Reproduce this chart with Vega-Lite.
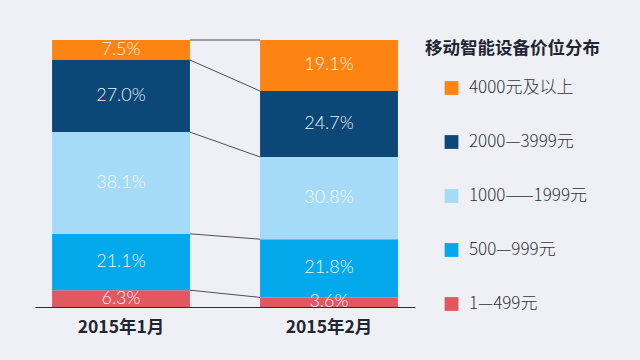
{
  "$schema": "https://vega.github.io/schema/vega-lite/v6.json",
  "width": 380,
  "height": 267,
  "autosize": {"type": "none"},
  "padding": {"left": 35, "top": 40, "right": 225, "bottom": 53},
  "background": "#eff0f5",
  "config": {
    "view": {"stroke": null},
    "font": "Lato"
  },
  "data": {
    "values": [
      {"month": "2015年1月", "range": "1—499元", "order": 1, "value": 6.3},
      {"month": "2015年1月", "range": "500—999元", "order": 2, "value": 21.1},
      {"month": "2015年1月", "range": "1000——1999元", "order": 3, "value": 38.1},
      {"month": "2015年1月", "range": "2000—3999元", "order": 4, "value": 27.0},
      {"month": "2015年1月", "range": "4000元及以上", "order": 5, "value": 7.5},
      {"month": "2015年2月", "range": "1—499元", "order": 1, "value": 3.6},
      {"month": "2015年2月", "range": "500—999元", "order": 2, "value": 21.8},
      {"month": "2015年2月", "range": "1000——1999元", "order": 3, "value": 30.8},
      {"month": "2015年2月", "range": "2000—3999元", "order": 4, "value": 24.7},
      {"month": "2015年2月", "range": "4000元及以上", "order": 5, "value": 19.1}
    ]
  },
  "layer": [
    {
      "mark": {"type": "bar"},
      "encoding": {
        "x": {
          "field": "month", "type": "nominal", "sort": ["2015年1月", "2015年2月"],
          "scale": {"paddingInner": 0.337, "paddingOuter": 0.082},
          "axis": {"title": null, "labelAngle": 0, "labelFontSize": 17.5, "labelFontWeight": "bold", "labelColor": "#1f2533", "labelFont": "Noto Sans CJK SC", "ticks": false, "labelPadding": 11, "domainColor": "#2a2e36", "domainWidth": 1.2}
        },
        "y": {"field": "value", "type": "quantitative", "stack": "zero", "scale": {"domain": [0, 100]}, "axis": null},
        "order": {"field": "order", "type": "quantitative"},
        "color": {
          "field": "range", "type": "nominal",
          "scale": {
            "domain": ["4000元及以上", "2000—3999元", "1000——1999元", "500—999元", "1—499元"],
            "range": ["#fd8312", "#0b4877", "#a5dbf6", "#04a9ec", "#e2585f"]
          },
          "legend": {
            "title": "移动智能设备价位分布",
            "orient": "none", "legendX": 390, "legendY": 0, "padding": 0,
            "titleFont": "Noto Sans CJK SC", "titleFontSize": 17.5, "titleFontWeight": "bold", "titleColor": "#1f2533", "titlePadding": 22, "titleBaseline": "top",
            "symbolType": "square", "symbolSize": 190, "symbolOffset": 18, "symbolStrokeWidth": 0,
            "labelFont": "Noto Sans CJK SC", "labelFontWeight": 300, "labelFontSize": 17, "labelColor": "#2f3440", "labelOffset": 9,
            "rowPadding": 36
          }
        }
      }
    },
    {
      "transform": [
        {"window": [{"op": "sum", "field": "value", "as": "cum"}], "sort": [{"field": "order"}], "groupby": ["month"], "frame": [null, 0]},
        {"pivot": "month", "value": "cum", "groupby": ["range"]},
        {"calculate": "'2015年1月'", "as": "from"},
        {"calculate": "'2015年2月'", "as": "to"}
      ],
      "mark": {"type": "rule", "color": "#4a4f5a", "strokeWidth": 1},
      "encoding": {
        "x": {"field": "from", "type": "nominal", "bandPosition": 1},
        "x2": {"field": "to", "bandPosition": 0},
        "y": {"field": "2015年1月", "type": "quantitative"},
        "y2": {"field": "2015年2月"}
      }
    },
    {
      "transform": [{"calculate": "format(datum.value, '.1f') + '%'", "as": "label"}],
      "mark": {"type": "text", "color": "white", "opacity": 0.92, "fontSize": 18, "font": "Lato", "fontWeight": 300},
      "encoding": {
        "x": {"field": "month", "type": "nominal", "sort": ["2015年1月", "2015年2月"]},
        "y": {"field": "value", "type": "quantitative", "stack": "zero", "bandPosition": 0.5},
        "order": {"field": "order", "type": "quantitative"},
        "text": {"field": "label"}
      }
    }
  ]
}
